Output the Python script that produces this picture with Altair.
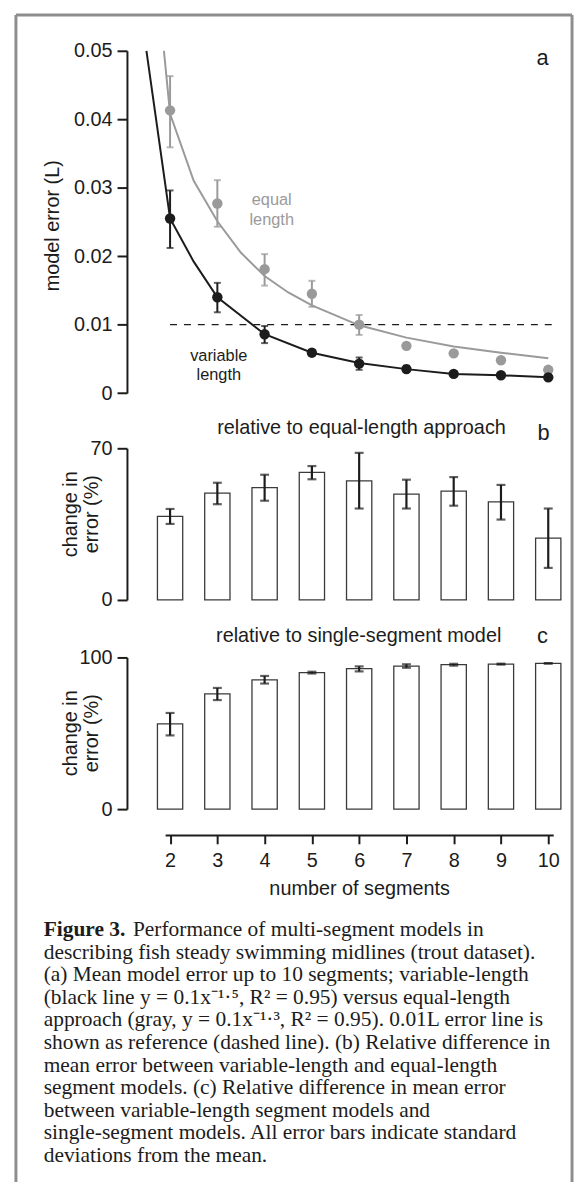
import altair as alt
import pandas as pd

# ---------------- data ----------------
segments = [2, 3, 4, 5, 6, 7, 8, 9, 10]

# panel a: mean model error (L) -- variable-length (black)
var_mean = [0.0255, 0.0140, 0.0086, 0.0059, 0.0043, 0.0035, 0.0028, 0.0026, 0.0023]
var_low = [0.0212, 0.0118, 0.0073, 0.0055, 0.0034, 0.0031, 0.0026, 0.0024, 0.0021]
var_high = [0.0296, 0.0161, 0.0098, 0.0063, 0.0052, 0.0040, 0.0030, 0.0028, 0.0025]
# equal-length (gray)
eq_mean = [0.0413, 0.0277, 0.0181, 0.0145, 0.0100, 0.0069, 0.0058, 0.0048, 0.0034]
eq_low = [0.0359, 0.0243, 0.0157, 0.0126, 0.0085, 0.0065, 0.0055, 0.0045, 0.0031]
eq_high = [0.0463, 0.0311, 0.0203, 0.0164, 0.0114, 0.0073, 0.0061, 0.0051, 0.0037]

# fitted curves
var_fit_x = [1.5, 2, 2.5, 3, 4, 5, 6, 7, 8, 9, 10]
var_fit_y = [0.0500, 0.0255, 0.0192, 0.0140, 0.0086, 0.0059, 0.0044, 0.0035, 0.0028, 0.0026, 0.0023]
eq_fit_x = [1.87, 2, 2.5, 3, 3.5, 4, 4.5, 5, 6, 7, 8, 9, 10]
eq_fit_y = [0.0500, 0.0408, 0.0310, 0.0251, 0.0205, 0.0171, 0.0147, 0.0128, 0.0099, 0.0081, 0.0068, 0.0059, 0.0051]

ref_level = 0.01
ref_x = [2, 10.12]

# panel b: change in error relative to equal-length approach (%)
b_mean = [38.6, 49.3, 51.8, 58.9, 55.0, 48.8, 50.2, 45.3, 28.5]
b_low = [35.1, 44.2, 45.8, 55.7, 42.2, 42.2, 43.5, 37.1, 14.8]
b_high = [42.0, 54.1, 57.8, 61.8, 67.9, 55.5, 56.7, 53.1, 42.2]

# panel c: change in error relative to single-segment model (%)
c_mean = [56.2, 76.0, 85.2, 90.0, 92.6, 94.3, 95.2, 95.6, 96.1]
c_low = [48.6, 71.9, 82.8, 89.4, 90.8, 93.2, 94.6, 95.3, 95.9]
c_high = [63.4, 79.9, 87.8, 90.6, 94.1, 95.5, 95.8, 95.9, 96.3]

a_ticks = [0, 0.01, 0.02, 0.03, 0.04, 0.05]
b_ticks = [0, 70]
c_ticks = [0, 100]

title_b = "relative to equal-length approach"
title_c = "relative to single-segment model"

caption_bold = "Figure 3."
caption_first = "Performance of multi-segment models in"
caption_lines = [
    "describing fish steady swimming midlines (trout dataset).",
    "(a) Mean model error up to 10 segments; variable-length",
    "(black line y = 0.1x\u207b\u00b9\u00b7\u2075, R\u00b2 = 0.95) versus equal-length",
    "approach (gray, y = 0.1x\u207b\u00b9\u00b7\u00b3, R\u00b2 = 0.95). 0.01L error line is",
    "shown as reference (dashed line). (b) Relative difference in",
    "mean error between variable-length and equal-length",
    "segment models. (c) Relative difference in mean error",
    "between variable-length segment models and",
    "single-segment models. All error bars indicate standard",
    "deviations from the mean.",
]

# ---------------- style ----------------
SANS = "Liberation Sans"
SERIF = "Liberation Serif"
INK = "#1c1c1c"
GRAY = "#9a9a9a"
FRAME = "#8e8e8e"
W, H = 561, 1170

x_scale = alt.Scale(domain=[2, 10], range=[150.5, 542], nice=False, zero=False)
x_axis = alt.Axis(orient="bottom", offset=-343, values=segments, format="d",
                  title="number of segments", tickSize=9, labelPadding=7, titlePadding=8)


def X(field):
    return alt.X(f"{field}:Q", scale=x_scale, axis=x_axis)


# ---------- panel a ----------
ya = alt.Scale(domain=[0, 0.05], range=[381.3, 36], nice=False)
ya_axis = alt.Axis(orient="left", offset=-112, values=a_ticks, format=".2~f",
                   title="model error (L)", titleX=-75, titleY=212, titleAngle=270,
                   titleBaseline="middle", titleAlign="center")


def YA(field):
    return alt.Y(f"{field}:Q", scale=ya, axis=ya_axis)


df_a = pd.DataFrame({"seg": segments, "vm": var_mean, "vl": var_low, "vh": var_high,
                     "em": eq_mean, "el": eq_low, "eh": eq_high})
df_vfit = pd.DataFrame({"fx": var_fit_x, "fy": var_fit_y})
df_efit = pd.DataFrame({"fx": eq_fit_x, "fy": eq_fit_y})
df_ref = pd.DataFrame({"rx": [ref_x[0]], "rx2": [ref_x[1]], "ry": [ref_level]})

eq_line = alt.Chart(df_efit).mark_line(color=GRAY, strokeWidth=2).encode(x=X("fx"), y=YA("fy"))
ref_rule = alt.Chart(df_ref).mark_rule(color=INK, strokeWidth=1.2, strokeDash=[7, 7]).encode(
    x=X("rx"), x2="rx2", y=YA("ry"))
eq_err = alt.Chart(df_a).mark_rule(color=GRAY, strokeWidth=2).encode(x=X("seg"), y=YA("el"), y2="eh")
eq_cap_lo = alt.Chart(df_a).mark_tick(orient="horizontal", size=7, thickness=2, color=GRAY).encode(x=X("seg"), y=YA("el"))
eq_cap_hi = alt.Chart(df_a).mark_tick(orient="horizontal", size=7, thickness=2, color=GRAY).encode(x=X("seg"), y=YA("eh"))
eq_pts = alt.Chart(df_a).mark_circle(size=110, color=GRAY, opacity=1).encode(x=X("seg"), y=YA("em"))

var_line = alt.Chart(df_vfit).mark_line(color=INK, strokeWidth=2).encode(x=X("fx"), y=YA("fy"))
var_err = alt.Chart(df_a).mark_rule(color=INK, strokeWidth=2).encode(x=X("seg"), y=YA("vl"), y2="vh")
var_cap_lo = alt.Chart(df_a).mark_tick(orient="horizontal", size=7, thickness=2, color=INK).encode(x=X("seg"), y=YA("vl"))
var_cap_hi = alt.Chart(df_a).mark_tick(orient="horizontal", size=7, thickness=2, color=INK).encode(x=X("seg"), y=YA("vh"))
var_pts = alt.Chart(df_a).mark_circle(size=110, color=INK, opacity=1).encode(x=X("seg"), y=YA("vm"))

df_lab_a = pd.DataFrame({"tx": [9.88], "ty": [0.0489], "t": ["a"]})
lab_a = alt.Chart(df_lab_a).mark_text(font=SANS, fontSize=22, color=INK).encode(
    x=X("tx"), y=YA("ty"), text="t:N")
df_eq_lab = pd.DataFrame({"tx": [4.15, 4.15], "ty": [0.02816, 0.02524], "t": ["equal", "length"]})
eq_lab = alt.Chart(df_eq_lab).mark_text(font=SANS, fontSize=16.5, color=GRAY).encode(
    x=X("tx"), y=YA("ty"), text="t:N")
df_var_lab = pd.DataFrame({"tx": [3.03, 3.03], "ty": [0.00544, 0.00267], "t": ["variable", "length"]})
var_lab = alt.Chart(df_var_lab).mark_text(font=SANS, fontSize=16.5, color=INK).encode(
    x=X("tx"), y=YA("ty"), text="t:N")

panel_a = alt.layer(eq_line, ref_rule, eq_err, eq_cap_lo, eq_cap_hi, eq_pts,
                    var_line, var_err, var_cap_lo, var_cap_hi, var_pts,
                    lab_a, eq_lab, var_lab)


# ---------- bar panels ----------
def bar_panel(mean, low, high, domain_max, rng, ticks, title_y, title_text, title_pos, letter_pos, letter):
    ysc = alt.Scale(domain=[0, domain_max], range=rng, nice=False)
    yax = alt.Axis(orient="left", offset=-112, values=ticks, format="d",
                   title=["change in", "error (%)"], titleX=-57, titleY=title_y,
                   titleAngle=270, titleBaseline="middle", titleAlign="center", titleLineHeight=21)

    def Y(field):
        return alt.Y(f"{field}:Q", scale=ysc, axis=yax)

    df = pd.DataFrame({"seg": segments, "m": mean, "lo": low, "hi": high, "base": [0] * len(segments)})
    bars = alt.Chart(df).mark_bar(size=25.5, fill="white", stroke="#3a3a3a", strokeWidth=1.3).encode(
        x=X("seg"), y=Y("m"), y2="base")
    err = alt.Chart(df).mark_rule(color=INK, strokeWidth=2.2).encode(x=X("seg"), y=Y("lo"), y2="hi")
    cap_lo = alt.Chart(df).mark_tick(orient="horizontal", size=9, thickness=2.2, color=INK).encode(x=X("seg"), y=Y("lo"))
    cap_hi = alt.Chart(df).mark_tick(orient="horizontal", size=9, thickness=2.2, color=INK).encode(x=X("seg"), y=Y("hi"))
    dft = pd.DataFrame({"tx": [title_pos[0]], "ty": [title_pos[1]], "t": [title_text]})
    ttl = alt.Chart(dft).mark_text(font=SANS, fontSize=20, color=INK).encode(x=X("tx"), y=Y("ty"), text="t:N")
    dfl = pd.DataFrame({"tx": [letter_pos[0]], "ty": [letter_pos[1]], "t": [letter]})
    let = alt.Chart(dfl).mark_text(font=SANS, fontSize=22, color=INK).encode(x=X("tx"), y=Y("ty"), text="t:N")
    return alt.layer(bars, err, cap_lo, cap_hi, ttl, let)


panel_b = bar_panel(b_mean, b_low, b_high, 70, [590, 437], b_ticks, 503, title_b, (6.05, 79.2), (9.9, 76.9), "b")
panel_c = bar_panel(c_mean, c_low, c_high, 100, [801, 648], c_ticks, 724, title_c, (5.99, 114.4), (9.88, 114.4), "c")

# ---------- caption ----------
cap_scale = alt.Scale(domain=[1, 11], range=[923, 1151], nice=False, zero=False)
df_cap1 = pd.DataFrame({"line": [1], "txt": [caption_bold]})
df_cap1r = pd.DataFrame({"line": [1], "txt": [caption_first]})
df_cap = pd.DataFrame({"line": list(range(2, 2 + len(caption_lines))), "txt": caption_lines})

CAP_SIZE = 21.6
cap_bold = alt.Chart(df_cap1).mark_text(font=SERIF, fontSize=CAP_SIZE, fontWeight="bold", color=INK,
                                        align="left", baseline="middle").encode(
    x=alt.value(28), y=alt.Y("line:Q", scale=cap_scale, axis=None), text="txt:N")
cap_first = alt.Chart(df_cap1r).mark_text(font=SERIF, fontSize=CAP_SIZE, color=INK,
                                          align="left", baseline="middle").encode(
    x=alt.value(118), y=alt.Y("line:Q", scale=cap_scale, axis=None), text="txt:N")
cap_rest = alt.Chart(df_cap).mark_text(font=SERIF, fontSize=CAP_SIZE, color=INK,
                                       align="left", baseline="middle").encode(
    x=alt.value(28), y=alt.Y("line:Q", scale=cap_scale, axis=None), text="txt:N")
caption = alt.layer(cap_bold, cap_first, cap_rest)

# ---------- frame ----------
df_one = pd.DataFrame({"k": [0]})
frame_l = alt.Chart(df_one).mark_rule(color=FRAME, strokeWidth=3).encode(
    x=alt.value(0), y=alt.value(0), y2=alt.value(H + 10))
frame_t = alt.Chart(df_one).mark_rule(color=FRAME, strokeWidth=3).encode(
    x=alt.value(0), x2=alt.value(W), y=alt.value(0))
frame_r = alt.Chart(df_one).mark_rule(color=FRAME, strokeWidth=3).encode(
    x=alt.value(W), y=alt.value(0), y2=alt.value(H + 10))

chart = alt.layer(panel_a, panel_b, panel_c, caption, frame_l, frame_t, frame_r).resolve_scale(
    y="independent"
).properties(
    width=W, height=H,
    autosize=alt.AutoSizeParams(type="none"),
    padding={"left": 8, "top": 2, "right": 4, "bottom": 2},
    background="white",
).configure_view(stroke=None).configure_axis(
    grid=False, domainColor=INK, tickColor=INK, domainWidth=2, tickWidth=2, tickSize=10,
    labelFont=SANS, labelFontSize=20, labelColor=INK, labelPadding=5,
    titleFont=SANS, titleFontSize=20, titleFontWeight="normal", titleColor=INK,
)

chart.save("out.html", embed_options={"renderer": "svg", "actions": False})
